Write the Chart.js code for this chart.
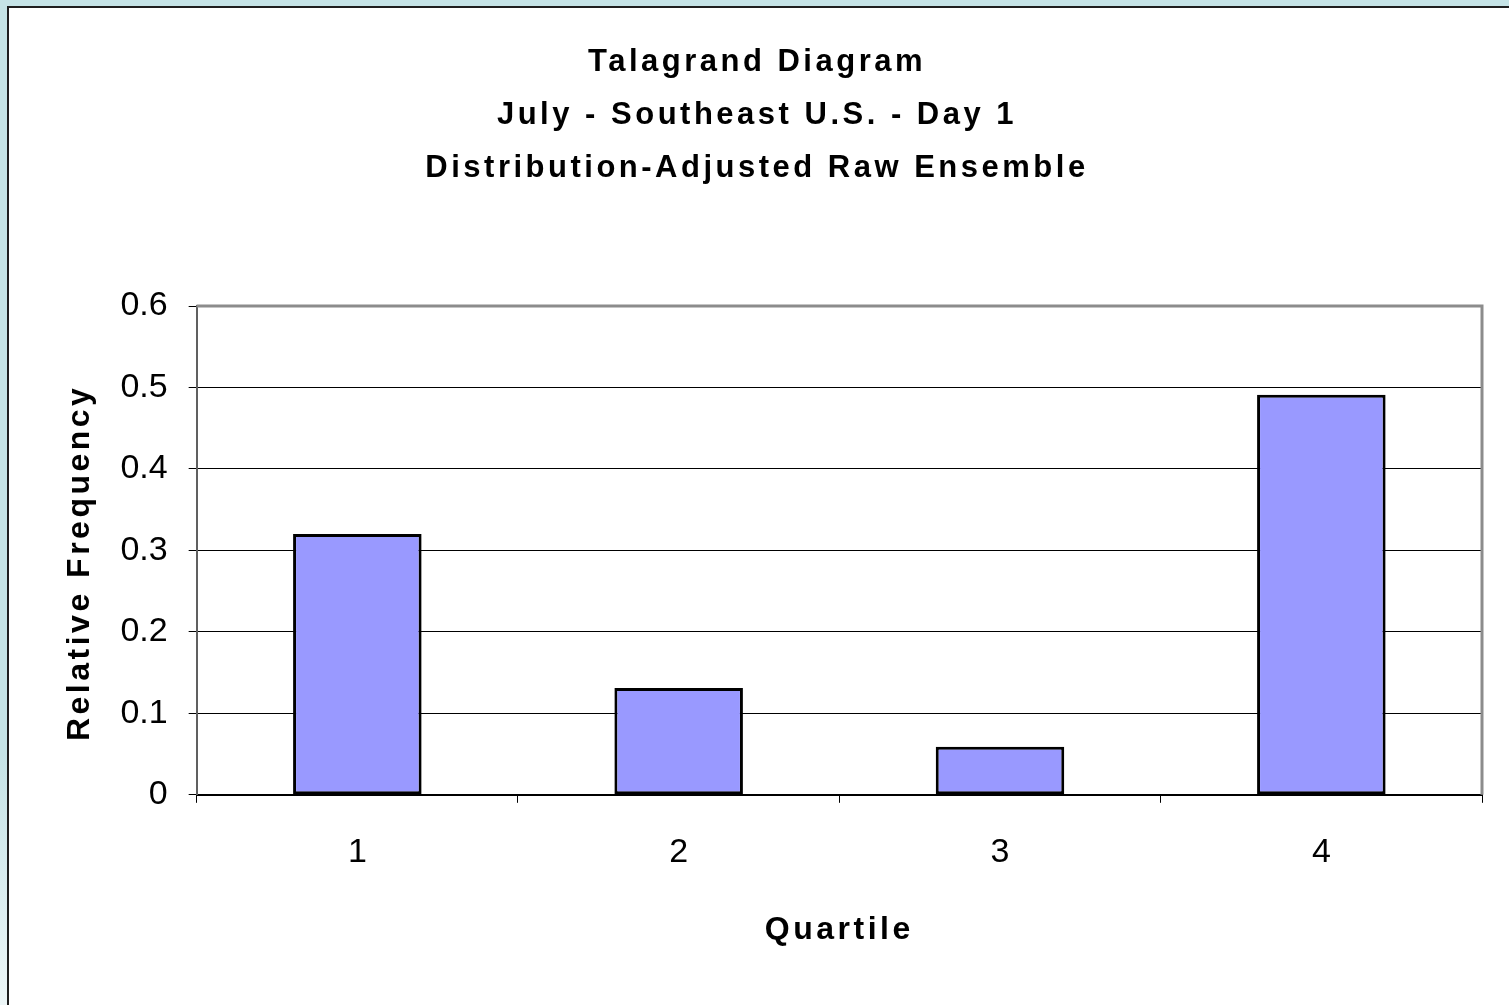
<!DOCTYPE html>
<html>
<head>
<meta charset="utf-8">
<script src="https://cdn.jsdelivr.net/npm/chart.js@4.4.0/dist/chart.umd.min.js"></script>
<style>
body { margin: 0; overflow: hidden; background: linear-gradient(#c5e3e6 0%, #c5e3e6 75%, #edf6f7 100%); width: 1509px; height: 1005px; }
#panel { position: absolute; left: 7px; top: 6px; width: 1520px; height: 1020px; background: #fff; border-left: 2px solid #1e1e1e; border-top: 2px solid #1e1e1e; }
#talagrandChart { position: absolute; left: 0; top: 0; }
</style>
</head>
<body>
<div id="panel"></div>
<canvas id="talagrandChart" width="1509" height="1005"></canvas>
<script>
const quartiles = ["1", "2", "3", "4"];
const relativeFrequency = [0.32, 0.131, 0.059, 0.491];
const yTickLabels = ["0", "0.1", "0.2", "0.3", "0.4", "0.5", "0.6"];
const titleLines = [
    "Talagrand Diagram",
    "July - Southeast U.S. - Day 1",
    "Distribution-Adjusted Raw Ensemble"
];

const FONT = "'Liberation Sans', Arial, sans-serif";

// grey frame on top and right of the plot area, like the Excel chart
const plotFrame = {
    id: "plotFrame",
    afterDraw(chart) {
        const a = chart.chartArea;
        const c = chart.ctx;
        c.save();
        c.strokeStyle = "#8c8c8c";
        c.lineWidth = 3;
        c.beginPath();
        c.moveTo(a.left, a.top);
        c.lineTo(a.right, a.top);
        c.lineTo(a.right, a.bottom);
        c.stroke();
        c.restore();
    }
};

const ctx = document.getElementById("talagrandChart");

// the old Excel export spreads out the bold text a bit
const g = ctx.getContext("2d");
const fillTextPlain = g.fillText;
g.fillText = function (t, x, y, w) {
    this.letterSpacing = this.font.indexOf("bold") >= 0 ? "3.5px" : "0px";
    return fillTextPlain.call(this, t, x, y, w);
};

new Chart(ctx, {
    type: "bar",
    data: {
        labels: quartiles,
        datasets: [{
            data: relativeFrequency,
            backgroundColor: "#9999ff",
            borderColor: "#000000",
            borderWidth: 3,
            borderSkipped: false,
            categoryPercentage: 1,
            barPercentage: 0.4
        }]
    },
    options: {
        responsive: false,
        animation: false,
        layout: { padding: { left: 32, right: 27, top: 0, bottom: 0 } },
        plugins: {
            legend: { display: false },
            tooltip: { enabled: false },
            title: {
                display: true,
                text: titleLines,
                color: "#000",
                font: { family: FONT, size: 31, weight: "bold", lineHeight: 1.71 },
                padding: { top: 36, bottom: 111 }
            }
        },
        scales: {
            x: {
                offset: true,
                grid: { display: true, offset: true, drawOnChartArea: false, color: "#000", tickLength: 8, tickWidth: 1 },
                border: { color: "#000", width: 2 },
                ticks: { color: "#000", font: { family: FONT, size: 34 }, padding: 29 },
                title: {
                    display: true,
                    text: "Quartile",
                    color: "#000",
                    font: { family: FONT, size: 32, weight: "bold" },
                    padding: { top: 9, bottom: 56 }
                }
            },
            y: {
                min: 0,
                max: 0.6,
                grid: { color: "#000", lineWidth: 1, tickLength: 8 },
                border: { color: "#606060", width: 2 },
                ticks: {
                    stepSize: 0.1,
                    color: "#000",
                    font: { family: FONT, size: 34 },
                    padding: 21,
                    callback: (v, i) => yTickLabels[i]
                },
                title: {
                    display: true,
                    // trailing spaces nudge the label down a little, as in the original
                    text: "Relative Frequency  ",
                    color: "#000",
                    font: { family: FONT, size: 32, weight: "bold" },
                    padding: { top: 29, bottom: 0 }
                }
            }
        }
    },
    plugins: [plotFrame]
});
</script>
</body>
</html>
